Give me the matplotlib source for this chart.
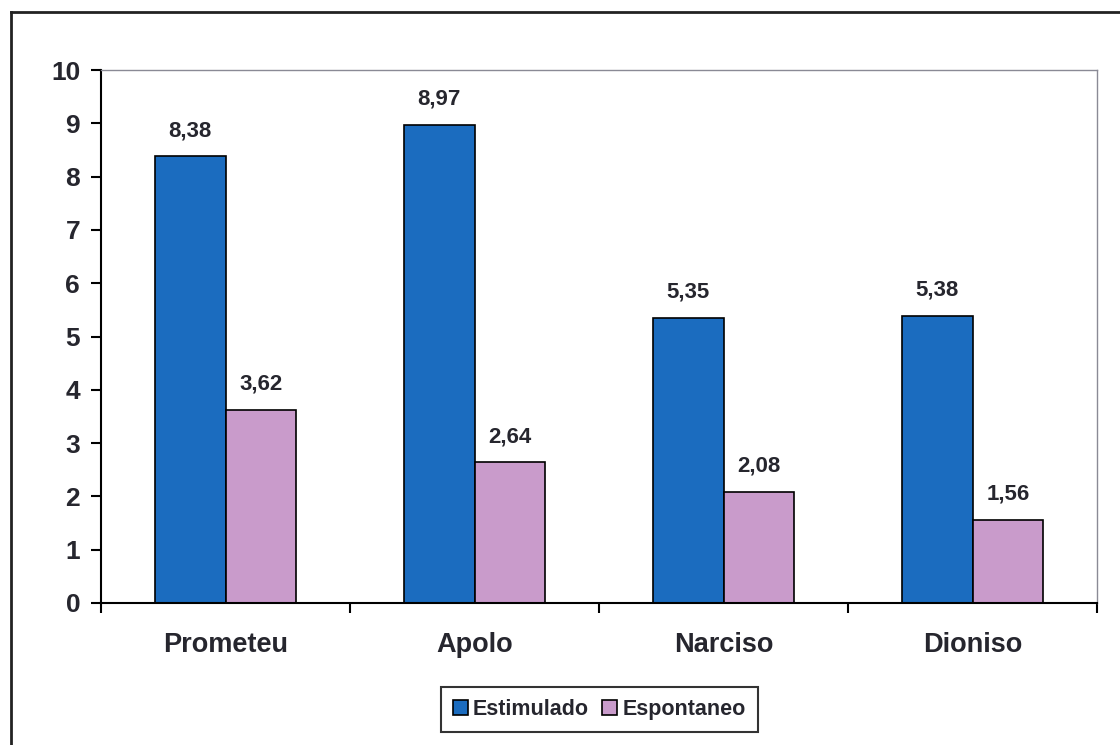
import matplotlib.pyplot as plt
import numpy as np
from matplotlib.lines import Line2D

categories = ['Prometeu', 'Apolo', 'Narciso', 'Dioniso']
estimulado = [8.38, 8.97, 5.35, 5.38]
espontaneo = [3.62, 2.64, 2.08, 1.56]
series_names = ['Estimulado', 'Espontaneo']
yticks = list(range(0, 11))

blue = '#1b6cbf'
pink = '#c99bcb'
ink = '#26262e'

plt.rcParams['font.family'] = ['Liberation Sans', 'DejaVu Sans']
plt.rcParams['font.weight'] = 'bold'

fig = plt.figure(figsize=(11.2, 7.45), dpi=100)
ax = fig.add_axes([101 / 1120, 1 - 603 / 745, 996 / 1120, 533 / 745])

x = np.arange(len(categories))
w = 0.285
b1 = ax.bar(x - w / 2, estimulado, w, color=blue, edgecolor='black', linewidth=1.2,
            label=series_names[0])
b2 = ax.bar(x + w / 2, espontaneo, w, color=pink, edgecolor='black', linewidth=1.2,
            label=series_names[1])
for bars in (b1, b2):
    ax.bar_label(bars, labels=[f'{v:.2f}'.replace('.', ',') for v in bars.datavalues],
                 padding=11, fontsize=16, fontweight='bold', color=ink)

ax.set_xlim(-0.5, len(categories) - 0.5)
ax.set_ylim(0, 10)
ax.set_yticks(yticks)
ax.set_yticklabels([str(t) for t in yticks], fontsize=19, fontweight='bold', color=ink)

# boundaries carry the ticks, category names sit on minor ticks
ax.set_xticks(np.arange(-0.5, len(categories), 1.0))
ax.set_xticklabels([])
ax.set_xticks(x, minor=True)
ax.set_xticklabels(categories, minor=True, fontsize=19.5, fontweight='bold', color=ink)
ax.tick_params(axis='x', which='minor', length=0, pad=21)
ax.tick_params(axis='x', which='major', direction='out', length=7, width=1.5)
ax.tick_params(axis='y', direction='out', length=7, width=1.5, pad=8)

for side in ('top', 'right'):
    ax.spines[side].set_color('#8a8a95')
    ax.spines[side].set_linewidth(1.0)
for side in ('left', 'bottom'):
    ax.spines[side].set_color('black')
    ax.spines[side].set_linewidth(1.5)

leg = ax.legend(loc='center', bbox_to_anchor=(0.535, 0.048), bbox_transform=fig.transFigure,
                ncol=2, fontsize=15.5, frameon=True, fancybox=False, handlelength=0.7,
                handleheight=0.7, handletextpad=0.25, columnspacing=0.6,
                borderpad=0.55, borderaxespad=0)
leg.get_frame().set_edgecolor('black')
leg.get_frame().set_linewidth(1.5)
for t in leg.get_texts():
    t.set_color(ink)

# outer chart frame
fx0, fy1 = 11 / 1120, 1 - 12 / 745
fig.add_artist(Line2D([fx0, fx0], [0, fy1], color='#222', lw=2, transform=fig.transFigure))
fig.add_artist(Line2D([fx0, 1], [fy1, fy1], color='#222', lw=2, transform=fig.transFigure))

fig.savefig('out.png', dpi=100)
